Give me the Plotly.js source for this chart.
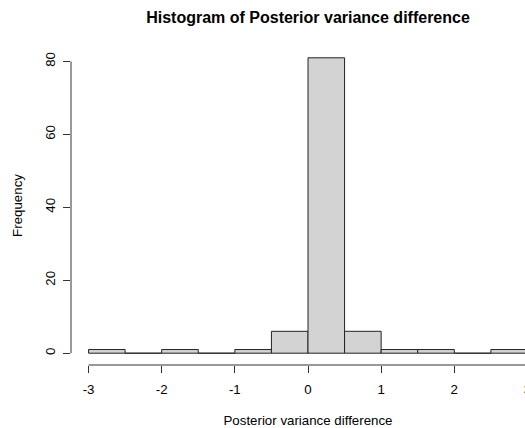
<!DOCTYPE html>
<html>
<head>
<meta charset="utf-8">
<script src="https://cdn.plot.ly/plotly-3.0.1.min.js"></script>
<style>
html, body { margin: 0; padding: 0; overflow: hidden; background: #fff; }
#chart { width: 545px; height: 428px; }
</style>
</head>
<body>
<div id="chart"></div>
<script>
// Histogram bins (edges) and frequencies
const binEdges = [-3, -2.5, -2, -1.5, -1, -0.5, 0, 0.5, 1, 1.5, 2, 2.5, 3];
const counts = [1, 0, 1, 0, 1, 6, 81, 6, 1, 1, 0, 1];
const xTicks = [-3, -2, -1, 0, 1, 2, 3];
const yTicks = [0, 20, 40, 60, 80];

const centers = counts.map((c, i) => (binEdges[i] + binEdges[i + 1]) / 2);
const widths = counts.map((c, i) => binEdges[i + 1] - binEdges[i]);

const font = "Liberation Sans, Arial, sans-serif";

const trace = {
  type: "bar",
  x: centers,
  y: counts,
  width: widths,
  marker: { color: "#D3D3D3", line: { color: "#222222", width: 1 } },
  hoverinfo: "x+y"
};

const xMin = binEdges[0], xMax = binEdges[binEdges.length - 1];
const xPad = (xMax - xMin) * 0.04;
const yMax = Math.max(...counts);
const yPad = yMax * 0.04;

const layout = {
  width: 545,
  height: 428,
  margin: { l: 71, r: 0, t: 46, b: 63 },
  paper_bgcolor: "#ffffff",
  plot_bgcolor: "#ffffff",
  showlegend: false,
  bargap: 0,
  font: { family: font, size: 13, color: "#000" },
  title: {
    text: "<b>Histogram of Posterior variance difference</b>",
    font: { family: font, size: 16, color: "#000" },
    x: 0.5, xref: "paper", xanchor: "center",
    y: 0.96, yref: "container", yanchor: "middle"
  },
  xaxis: {
    range: [xMin - xPad, xMax + xPad],
    tickvals: xTicks,
    ticktext: xTicks.map(String),
    ticks: "outside", ticklen: 7, tickcolor: "#333", tickwidth: 1,
    ticklabelstandoff: 5,
    showline: false, showgrid: false, zeroline: false,
    tickfont: { family: font, size: 13.3, color: "#000" },
    title: { text: "Posterior variance difference", font: { family: font, size: 13.3, color: "#000" }, standoff: 20 }
  },
  yaxis: {
    range: [-yPad, yMax + yPad],
    tickvals: yTicks,
    ticktext: yTicks.map(String),
    tickangle: -90,
    ticks: "outside", ticklen: 7, tickcolor: "#333", tickwidth: 1,
    ticklabelstandoff: 3,
    showline: false, showgrid: false, zeroline: false,
    tickfont: { family: font, size: 13.3, color: "#000" },
    title: { text: "Frequency", font: { family: font, size: 13.3, color: "#000" }, standoff: 17 }
  },
  shapes: [
    { type: "line", xref: "x", yref: "paper", x0: xTicks[0], x1: xTicks[xTicks.length - 1], y0: 0, y1: 0,
      line: { color: "#333", width: 1 } },
    { type: "line", xref: "paper", yref: "y", x0: 0, x1: 0, y0: yTicks[0], y1: yTicks[yTicks.length - 1],
      line: { color: "#333", width: 1 } }
  ]
};

Plotly.newPlot("chart", [trace], layout, { displayModeBar: false, staticPlot: true });
</script>
</body>
</html>
